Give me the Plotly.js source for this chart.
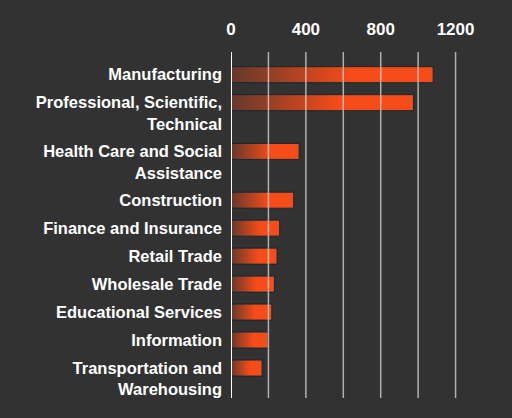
<!DOCTYPE html>
<html>
<head>
<meta charset="utf-8">
<script src="https://cdn.plot.ly/plotly-3.0.1.min.js"></script>
<style>
  html, body { margin: 0; padding: 0; background: #323232; }
  #chart { width: 512px; height: 418px; }
</style>
</head>
<body>
<div id="chart"></div>
<script>
var categories = [
  "Manufacturing",
  "Professional, Scientific,<br>Technical",
  "Health Care and Social<br>Assistance",
  "Construction",
  "Finance and Insurance",
  "Retail Trade",
  "Wholesale Trade",
  "Educational Services",
  "Information",
  "Transportation and<br>Warehousing"
];
var counts = [1080, 975, 364, 335, 260, 246, 232, 218, 198, 166];
var xTicks = [0, 400, 800, 1200];
var gridLines = [0, 200, 400, 600, 800, 1000, 1200];

// layout in pixel-like units: one slot per row, extra room for wrapped labels
var LABEL_SIZE = 16.5;
var ROW = 28, LINE = 20.8, HALF = 8;
var orange = "rgb(246,76,26)";

function drawChart() {
  var barPos = [], labelPos = [];
  var p = 0;
  categories.forEach(function (c, i) {
    var lines = c.split("<br>").length;
    if (i > 0) p += ROW;
    barPos.push(p);
    // plotly spaces wrapped tick lines 1.3em apart
    labelPos.push(p + (lines - 1) * LABEL_SIZE * 1.3 / 2);
    p += (lines - 1) * LINE;
  });

  var traces = counts.map(function (v, i) {
    var y = barPos[i];
    return {
      type: "scatter",
      mode: "lines",
      x: [0, v, v, 0, 0],
      y: [y - HALF, y - HALF, y + HALF, y + HALF, y - HALF],
      fill: "toself",
      fillgradient: {
        type: "horizontal",
        start: 0,
        stop: v * 0.6,
        colorscale: [[0, "rgba(246,76,26,0.25)"], [1, orange]]
      },
      line: { color: "rgba(15,38,42,0.9)", width: 1 },
      hoverinfo: "skip",
      showlegend: false
    };
  });

  var shapes = gridLines.map(function (g) {
    return {
      type: "line",
      layer: "above",
      xref: "x", yref: "paper",
      x0: g, x1: g, y0: 0, y1: 1,
      line: { color: g === 0 ? "#ffffff" : "rgba(230,230,230,0.7)", width: g === 0 ? 2 : 1.5 }
    };
  });

  var layout = {
    width: 512,
    height: 418,
    margin: { t: 52, r: 19, b: 20, l: 231 },
    paper_bgcolor: "#323232",
    plot_bgcolor: "#323232",
    font: { family: "Liberation Sans, Arial, sans-serif", color: "#ffffff" },
    showlegend: false,
    shapes: shapes,
    xaxis: {
      side: "top",
      range: [0, 1400],
      tickvals: xTicks,
      ticktext: xTicks.map(String),
      tickfont: { size: 17, weight: "bold", color: "#ffffff" },
      ticks: "",
      ticklabelstandoff: 13,
      showgrid: false,
      zeroline: false,
      showline: false,
      fixedrange: true
    },
    yaxis: {
      range: [barPos[barPos.length - 1] + 30, -22.7],
      tickvals: labelPos,
      ticktext: categories,
      tickfont: { size: LABEL_SIZE, weight: "bold", color: "#ffffff" },
      ticks: "",
      ticklabelstandoff: 8,
      showgrid: false,
      zeroline: false,
      showline: false,
      fixedrange: true
    }
  };

  Plotly.newPlot("chart", traces, layout, { displayModeBar: false, staticPlot: true });
}

drawChart();
</script>
</body>
</html>
